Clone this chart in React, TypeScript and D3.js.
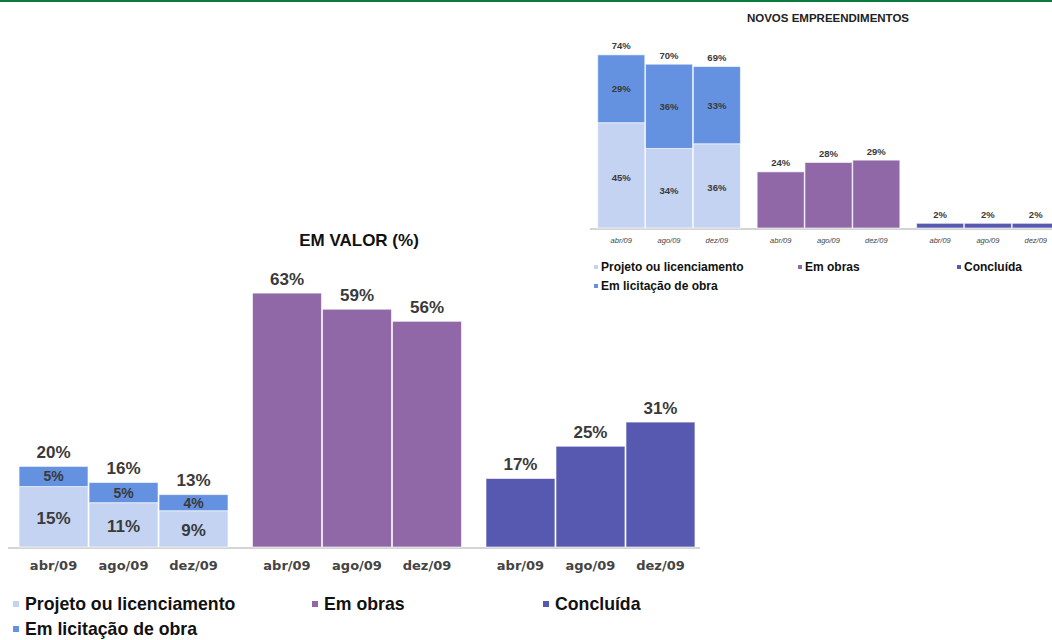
import React from 'react';
import * as d3 from 'd3';

const categories = ['abr/09', 'ago/09', 'dez/09'];
const groups = ['projeto', 'obras', 'concluida'];

// EM VALOR (%)
const valorProjeto = [15, 11, 9];
const valorLicitacao = [5, 5, 4];
const valorTotalA = [20, 16, 13];
const valorObras = [63, 59, 56];
const valorConcluida = [17, 25, 31];

// NOVOS EMPREENDIMENTOS
const novosProjeto = [45, 34, 36];
const novosLicitacao = [29, 36, 33];
const novosTotalA = [74, 70, 69];
const novosObras = [24, 28, 29];
const novosConcluida = [2, 2, 2];

const legendLabels = ['Projeto ou licenciamento', 'Em licitação de obra', 'Em obras', 'Concluída'];

const C_PROJ = '#c3d3f1';
const C_LIC = '#6492e0';
const C_OBRAS = '#9168a7';
const C_CONC = '#5758b0';
const FONT = "'Liberation Sans', Arial, sans-serif";

type Cfg = {
  x0: number; x1: number; base: number; pxPerPct: number;
  totalSize: number; innerBig: number; innerSmall: number;
  catSize: number; catY: number; catFont: string; catItalic: boolean; catWeight: string;
  proj: number[]; lic: number[]; tot: number[]; obras: number[]; conc: number[];
  axisX0: number; axisX1: number; totalGap: number;
};

function Chart({ c }: { c: Cfg }) {
  const outer = d3.scaleBand<string>().domain(groups).range([c.x0, c.x1]).paddingInner(0.096).paddingOuter(0);
  const inner = d3.scaleBand<string>().domain(categories).range([0, outer.bandwidth()]).padding(0.015);
  const y = d3.scaleLinear().domain([0, 100]).range([c.base, c.base - 100 * c.pxPerPct]);
  const els: React.ReactNode[] = [];
  const bar = (key: string, x: number, v0: number, v1: number, fill: string) => (
    <rect key={key} x={x} y={y(v1)} width={inner.bandwidth()} height={y(v0) - y(v1)} fill={fill}
      stroke="#ffffff" strokeOpacity={0.6} strokeWidth={1} />
  );
  const label = (key: string, x: number, yy: number, t: string, size: number) => (
    <text key={key} x={x} y={yy} textAnchor="middle" dominantBaseline="central" fontFamily={FONT}
      fontWeight="bold" fontSize={size} fill="#3a3a3a">{t}</text>
  );
  categories.forEach((cat, i) => {
    const gx = (g: string) => (outer(g) as number) + (inner(cat) as number);
    const cx = (g: string) => gx(g) + inner.bandwidth() / 2;
    // stacked
    els.push(bar('p' + i, gx('projeto'), 0, c.proj[i], C_PROJ));
    els.push(bar('l' + i, gx('projeto'), c.proj[i], c.proj[i] + c.lic[i], C_LIC));
    els.push(label('pl' + i, cx('projeto'), (y(0) + y(c.proj[i])) / 2 + 2, c.proj[i] + '%', c.innerBig));
    els.push(label('ll' + i, cx('projeto'), (y(c.proj[i]) + y(c.proj[i] + c.lic[i])) / 2, c.lic[i] + '%', c.innerSmall));
    els.push(label('tl' + i, cx('projeto'), y(c.tot[i]) - c.totalGap, c.tot[i] + '%', c.totalSize));
    els.push(bar('o' + i, gx('obras'), 0, c.obras[i], C_OBRAS));
    els.push(label('ol' + i, cx('obras'), y(c.obras[i]) - c.totalGap, c.obras[i] + '%', c.totalSize));
    els.push(bar('c' + i, gx('concluida'), 0, c.conc[i], C_CONC));
    els.push(label('cl' + i, cx('concluida'), y(c.conc[i]) - c.totalGap, c.conc[i] + '%', c.totalSize));
    groups.forEach((g) => {
      els.push(
        <text key={'cat' + g + i} x={cx(g)} y={c.catY} textAnchor="middle" dominantBaseline="central"
          fontFamily={c.catFont} fontSize={c.catSize} fontWeight={c.catWeight}
          fontStyle={c.catItalic ? 'italic' : 'normal'} fill="#444">{cat}</text>
      );
    });
  });
  return (
    <g>
      <line x1={c.axisX0} x2={c.axisX1} y1={c.base + 1} y2={c.base + 1} stroke="#d4d4d4" strokeWidth={2} />
      {els}
    </g>
  );
}

function Legend({ y, rowGap, size, sq, xs, gap }: { y: number; rowGap: number; size: number; sq: number; xs: number[]; gap: number }) {
  const items = [
    { t: legendLabels[0], c: C_PROJ, x: xs[0], y: y },
    { t: legendLabels[1], c: C_LIC, x: xs[0], y: y + rowGap },
    { t: legendLabels[2], c: C_OBRAS, x: xs[1], y: y },
    { t: legendLabels[3], c: C_CONC, x: xs[2], y: y },
  ];
  return (
    <g>
      {items.map((it) => (
        <g key={it.t}>
          <rect x={it.x} y={it.y - sq / 2} width={sq} height={sq} fill={it.c} />
          <text x={it.x + sq + gap} y={it.y} dominantBaseline="central" fontFamily={FONT} fontWeight="bold"
            fontSize={size} fill="#111">{it.t}</text>
        </g>
      ))}
    </g>
  );
}

export default function App() {
  const main: Cfg = {
    x0: 18, x1: 696, base: 547, pxPerPct: 4.03,
    totalSize: 17, innerBig: 17, innerSmall: 14,
    catSize: 13, catY: 565, catFont: "'DejaVu Sans', Verdana, sans-serif", catItalic: false, catWeight: 'bold',
    proj: valorProjeto, lic: valorLicitacao, tot: valorTotalA, obras: valorObras, conc: valorConcluida,
    axisX0: 8, axisX1: 700, totalGap: 14,
  };
  const small: Cfg = {
    x0: 597, x1: 1060, base: 228, pxPerPct: 2.34,
    totalSize: 9.5, innerBig: 9.5, innerSmall: 9.5,
    catSize: 7.5, catY: 240, catFont: FONT, catItalic: true, catWeight: 'normal',
    proj: novosProjeto, lic: novosLicitacao, tot: novosTotalA, obras: novosObras, conc: novosConcluida,
    axisX0: 590, axisX1: 1052, totalGap: 9,
  };
  return (
    <svg width={1052} height={640} style={{ position: 'absolute', left: 0, top: 0, background: '#fff' }}>
      <rect x={0} y={0} width={1052} height={2} fill="#0b7a3e" />
      <text x={828} y={18} textAnchor="middle" dominantBaseline="central" fontFamily={FONT} fontWeight="bold"
        fontSize={11.5} fill="#222">NOVOS EMPREENDIMENTOS</text>
      <Chart c={small} />
      <Legend y={267} rowGap={19} size={12} sq={4} xs={[594, 798, 957]} gap={3} />
      <text x={359} y={240} textAnchor="middle" dominantBaseline="central" fontFamily={FONT} fontWeight="bold"
        fontSize={17} fill="#111">EM VALOR (%)</text>
      <Chart c={main} />
      <Legend y={604} rowGap={25} size={17.7} sq={6} xs={[13, 312, 543]} gap={6} />
    </svg>
  );
}
